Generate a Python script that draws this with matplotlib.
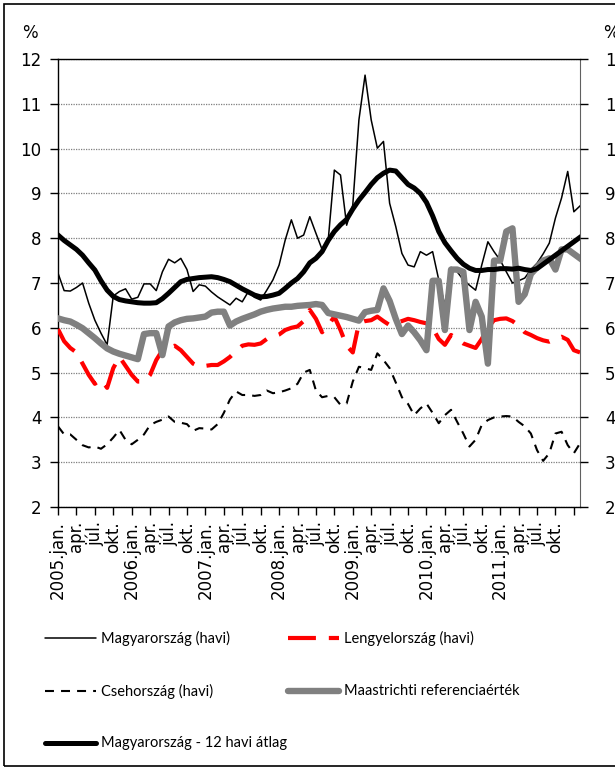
import matplotlib.pyplot as plt
from matplotlib.lines import Line2D
from matplotlib.patches import Rectangle

# havi adatok, 2005. jan. - 2012. febr.
hu_havi = [7.22, 6.83, 6.82, 6.90, 7.00, 6.55, 6.17, 5.88, 5.62, 6.71,
           6.81, 6.87, 6.64, 6.68, 6.98, 6.98, 6.83, 7.25, 7.53, 7.45,
           7.55, 7.30, 6.81, 6.96, 6.93, 6.80, 6.69, 6.60, 6.51, 6.66,
           6.58, 6.81, 6.68, 6.62, 6.84, 7.07, 7.40, 7.96, 8.41, 8.00,
           8.07, 8.48, 8.11, 7.75, 7.96, 9.52, 9.41, 8.29, 8.74, 10.64,
           11.64, 10.64, 10.01, 10.16, 8.78, 8.26, 7.66, 7.40, 7.36, 7.70,
           7.62, 7.70, 7.07, 6.50, 7.35, 7.25, 7.07, 6.95, 6.84, 7.40,
           7.92, 7.70, 7.51, 7.25, 7.00, 7.05, 7.11, 7.30, 7.44, 7.65,
           7.89, 8.45, 8.90, 9.49, 8.59, 8.72]

pl_havi = [5.97, 5.70, 5.55, 5.45, 5.20, 4.95, 4.75, 4.85, 4.66, 5.10,
           5.35, 5.15, 4.95, 4.80, 4.80, 4.95, 5.28, 5.50, 5.55, 5.60,
           5.50, 5.35, 5.20, 5.13, 5.15, 5.17, 5.17, 5.25, 5.35, 5.48,
           5.60, 5.63, 5.62, 5.65, 5.75, 5.80, 5.85, 5.95, 6.00, 6.03,
           6.15, 6.40, 6.20, 5.90, 6.05, 6.25, 5.95, 5.60, 5.45, 6.10,
           6.15, 6.17, 6.25, 6.15, 6.06, 6.10, 6.15, 6.20, 6.17, 6.13,
           6.10, 6.00, 5.75, 5.62, 5.84, 5.75, 5.65, 5.60, 5.55, 5.75,
           6.00, 6.17, 6.20, 6.21, 6.15, 6.05, 5.90, 5.84, 5.77, 5.72,
           5.69, 5.75, 5.80, 5.73, 5.50, 5.45]

cz_havi = [3.80, 3.62, 3.62, 3.50, 3.38, 3.33, 3.35, 3.30, 3.40, 3.55,
           3.72, 3.50, 3.40, 3.50, 3.62, 3.83, 3.90, 3.95, 4.02, 3.90,
           3.88, 3.85, 3.70, 3.76, 3.75, 3.73, 3.85, 4.10, 4.40, 4.58,
           4.50, 4.50, 4.48, 4.50, 4.60, 4.54, 4.56, 4.60, 4.65, 4.75,
           5.00, 5.06, 4.60, 4.45, 4.48, 4.45, 4.28, 4.31, 4.80, 5.13,
           5.10, 5.06, 5.43, 5.28, 5.10, 4.78, 4.45, 4.30, 4.05, 4.20,
           4.31, 4.10, 3.87, 4.05, 4.17, 3.90, 3.64, 3.35, 3.50, 3.83,
           3.94, 4.00, 4.02, 4.03, 4.02, 3.90, 3.80, 3.64, 3.27, 3.03,
           3.20, 3.64, 3.68, 3.38, 3.20, 3.42]

maastricht = [6.21, 6.17, 6.14, 6.07, 5.99, 5.88, 5.77, 5.65, 5.54, 5.47,
              5.42, 5.38, 5.34, 5.30, 5.86, 5.88, 5.88, 5.39, 6.03, 6.12,
              6.17, 6.20, 6.21, 6.23, 6.25, 6.34, 6.36, 6.36, 6.05, 6.14,
              6.20, 6.25, 6.30, 6.36, 6.40, 6.43, 6.45, 6.47, 6.47, 6.49,
              6.50, 6.51, 6.53, 6.51, 6.33, 6.30, 6.27, 6.24, 6.20, 6.16,
              6.35, 6.38, 6.40, 6.88, 6.60, 6.20, 5.86, 6.05, 5.90, 5.72,
              5.50, 7.05, 7.05, 5.95, 7.30, 7.30, 7.25, 5.95, 6.58, 6.25,
              5.20, 7.50, 7.50, 8.15, 8.22, 6.58, 6.75, 7.20, 7.35, 7.50,
              7.55, 7.30, 7.75, 7.75, 7.65, 7.55]

hu_12havi = [8.07, 7.95, 7.85, 7.75, 7.62, 7.45, 7.29, 7.05, 6.84, 6.70,
             6.63, 6.60, 6.58, 6.56, 6.55, 6.55, 6.56, 6.65, 6.77, 6.90,
             7.03, 7.08, 7.10, 7.12, 7.13, 7.14, 7.12, 7.08, 7.03, 6.95,
             6.87, 6.80, 6.73, 6.69, 6.70, 6.73, 6.77, 6.88, 7.00, 7.10,
             7.25, 7.45, 7.55, 7.70, 7.95, 8.15, 8.30, 8.42, 8.65, 8.85,
             9.02, 9.20, 9.35, 9.45, 9.52, 9.50, 9.35, 9.20, 9.12, 9.00,
             8.80, 8.50, 8.15, 7.90, 7.72, 7.55, 7.42, 7.33, 7.28, 7.28,
             7.30, 7.30, 7.32, 7.32, 7.31, 7.33, 7.30, 7.28, 7.32, 7.42,
             7.52, 7.62, 7.72, 7.82, 7.92, 8.02]

years = ['2005', '2006', '2007', '2008', '2009', '2010', '2011']
quarter_months = ['jan.', 'apr.', 'júl.', 'okt.']

tick_labels = []
for y in years:
    for m in quarter_months:
        tick_labels.append(y + '.' + m if m == 'jan.' else m)
tick_labels.append('')

W, H = 615, 767
fig = plt.figure(figsize=(W / 100, H / 100), dpi=100)
ax = fig.add_axes([58 / W, 1 - 507 / H, (580 - 58) / W, (507 - 59) / H])

x = list(range(len(hu_havi)))
ax.plot(x, hu_havi, color='black', lw=1.1, zorder=3)
ax.plot(x, pl_havi, color='red', lw=3.0, dashes=(6.7, 3.1), zorder=4)
ax.plot(x, cz_havi, color='black', lw=1.5, dashes=(4.3, 3.4), zorder=5)
ax.plot(x, maastricht, color='#808080', lw=4.6, zorder=6,
        solid_joinstyle='round')
ax.plot(x, hu_12havi, color='black', lw=3.6, zorder=7,
        solid_joinstyle='round')

ax.set_xlim(0, len(hu_havi) - 1)
ax.set_ylim(2, 12)
ax.set_yticks(range(2, 13))
ax.yaxis.grid(True, color='#7f7f7f', linestyle=(0, (1, 1)), lw=0.9)
ax.set_axisbelow(True)

ax.set_xticks(range(0, len(hu_havi), 3))
ax.set_xticklabels(tick_labels, rotation=90, fontsize=12)
ax.tick_params(axis='x', direction='out', length=6, width=1, pad=4)
ax.tick_params(axis='y', direction='out', length=6, width=1, pad=6,
               labelsize=12)

for side in ['left', 'bottom', 'top']:
    ax.spines[side].set_color('black')
    ax.spines[side].set_linewidth(1)
ax.spines['right'].set_color('#606060')
ax.spines['right'].set_linestyle((0, (1, 1)))

ax2 = ax.twinx()
ax2.set_ylim(2, 12)
ax2.set_yticks(range(2, 13))
ax2.tick_params(axis='y', direction='out', length=6, width=1, pad=12,
                labelsize=12)
for side in ax2.spines:
    ax2.spines[side].set_visible(False)

fig.text(22 / W, 1 - 33 / H, '%', fontsize=12, va='center')
fig.text(603 / W, 1 - 33 / H, '%', fontsize=12, va='center')

# jelmagyarázat
legend_items = [
    ('Magyarország (havi)', dict(color='black', lw=1.1), 45, 638),
    ('Lengyelország (havi)', dict(color='red', lw=3.0, dashes=(6.7, 3.1)), 288, 638),
    ('Csehország (havi)', dict(color='black', lw=1.5, dashes=(4.3, 3.4)), 45, 691),
    ('Maastrichti referenciaérték', dict(color='#808080', lw=4.6), 288, 691),
    ('Magyarország - 12 havi átlag', dict(color='black', lw=3.6), 45, 743),
]
for label, style, lx, ly in legend_items:
    fig.add_artist(Line2D([lx / W, (lx + 51) / W], [1 - ly / H, 1 - ly / H],
                          transform=fig.transFigure, solid_capstyle='round',
                          **style))
    fig.text((lx + 56) / W, 1 - ly / H, label, family='Lato', fontsize=10.5,
             va='center', ha='left')

fig.add_artist(Rectangle((4 / W, 1 / H), 1.0, 1 - 5 / H, fill=False,
                         edgecolor='black', lw=1.2,
                         transform=fig.transFigure))

fig.savefig('out.png', dpi=100)
